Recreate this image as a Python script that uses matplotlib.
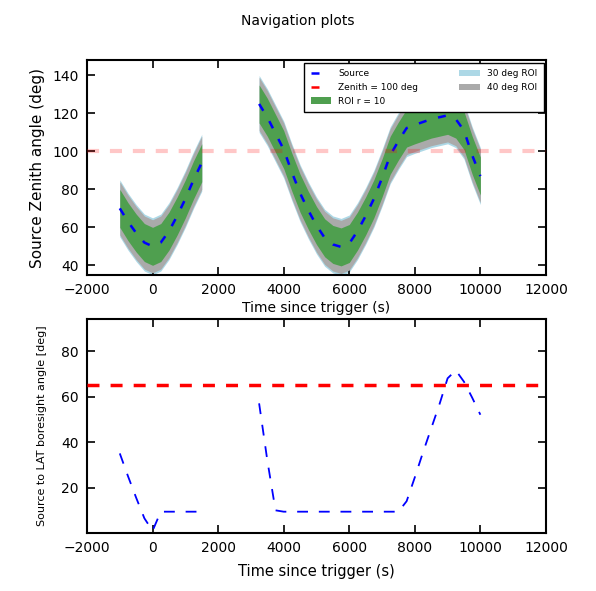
import matplotlib
matplotlib.use("Agg")
import matplotlib.pyplot as plt
import numpy as np

# ---- data ----
t_seg1 = [-1000, -750, -500, -250, 0, 250, 500, 750, 1000, 1250, 1500]
zen_seg1 = [70, 63, 57, 52, 50, 52, 58, 66, 75, 85, 94]
bore_seg1 = [35, 25, 15.5, 6.5, 1, 9.4, 9.4, 9.4, 9.4, 9.4, 9.4]

t_seg2 = [3250, 3500, 3750, 4000, 4250, 4500, 4750, 5000, 5250, 5500, 5750,
          6000, 6250, 6500, 6750, 7000, 7250, 7500, 7750, 8000, 8250, 8500,
          8750, 9000, 9250, 9500, 9750, 10000]
zen_seg2 = [125, 118, 109.5, 101, 89, 78, 69, 61, 54.5, 51, 49.7,
            51.5, 58, 66, 75, 86, 98, 105.5, 112.3, 114, 115.5, 117,
            118, 119, 117, 111, 98, 87]
bore_seg2 = [57, 32, 10, 9.4, 9.4, 9.4, 9.4, 9.4, 9.4, 9.4, 9.4,
             9.4, 9.4, 9.4, 9.4, 9.4, 9.4, 9.4, 14, 24.5, 35.5, 46,
             56.5, 68, 71.5, 66.5, 59.5, 52]

zenith_cut = 100
fov_cut = 65
roi_inner = 10
roi_mid = 14
roi_outer = 15

xticks = [-2000, 0, 2000, 4000, 6000, 8000, 10000, 12000]

fig = plt.figure(figsize=(5.96, 5.91), dpi=100)
fig.suptitle("Navigation plots", y=0.977, fontsize=10)

ax1 = fig.add_axes([0.146, 0.535, 0.770, 0.363])
ax2 = fig.add_axes([0.146, 0.098, 0.770, 0.362])

segments = [(t_seg1, zen_seg1, bore_seg1), (t_seg2, zen_seg2, bore_seg2)]

for i, (t, z, b) in enumerate(segments):
    t = np.array(t); z = np.array(z)
    lab = (lambda s: s if i == 0 else None)
    ax1.fill_between(t, z - roi_outer, z + roi_outer, color="lightblue",
                     lw=0, label=lab("30 deg ROI"), zorder=1)
    ax1.fill_between(t, z - roi_mid, z + roi_mid, color="#aaaaaa",
                     lw=0, label=lab("40 deg ROI"), zorder=2)
    ax1.fill_between(t, z - roi_inner, z + roi_inner, color="#4f9f4f",
                     lw=0, label=lab("ROI r = 10"), zorder=3)
    ax1.plot(t, z, color="blue", lw=1.8, ls=(0, (3.2, 4.8)),
             label=lab("Source"), zorder=4)
    ax2.plot(t, b, color="blue", lw=1.3, ls=(0, (6, 6)), zorder=4)

ax1.axhline(zenith_cut, color="red", alpha=0.22, lw=3, ls=(0, (2.9, 2.6)),
            zorder=5)
# legend proxy for the zenith line
ax1.plot([], [], color="red", lw=1.8, ls=(0, (3.2, 4.8)),
         label="Zenith = 100 deg")
ax2.axhline(fov_cut, color="red", lw=2.5, ls=(0, (3.45, 3.2)), zorder=5)

handles, labels = ax1.get_legend_handles_labels()
order = ["Source", "Zenith = 100 deg", "ROI r = 10", "30 deg ROI", "40 deg ROI"]
hmap = dict(zip(labels, handles))
leg = ax1.legend([hmap[o] for o in order], order, ncol=2, loc="upper right",
                 fontsize=6.5, fancybox=False, framealpha=1,
                 edgecolor="black", borderaxespad=0.25, columnspacing=4.5,
                 handlelength=2.3, borderpad=0.7, labelspacing=0.55)
leg.get_frame().set_linewidth(1.0)
leg.set_zorder(10)

for ax in (ax1, ax2):
    ax.set_xlim(-2000, 12000)
    ax.set_xticks(xticks)
    ax.tick_params(direction="in", top=True, right=True, length=6,
                   width=1.2, labelsize=10, pad=6)
    for s in ax.spines.values():
        s.set_linewidth(1.5)

ax1.set_xlabel("Time since trigger (s)", fontsize=10, labelpad=3)
ax2.set_xlabel("Time since trigger (s)", fontsize=10.5, labelpad=6)

ax1.set_ylim(35, 148)
ax1.set_yticks([40, 60, 80, 100, 120, 140])
ax1.set_ylabel("Source Zenith angle (deg)", fontsize=11, labelpad=5)

ax2.set_ylim(0, 94)
ax2.set_yticks([20, 40, 60, 80])
ax2.set_ylabel("Source to LAT boresight angle [deg]", fontsize=8, labelpad=10)

fig.savefig("out.png", dpi=100)
